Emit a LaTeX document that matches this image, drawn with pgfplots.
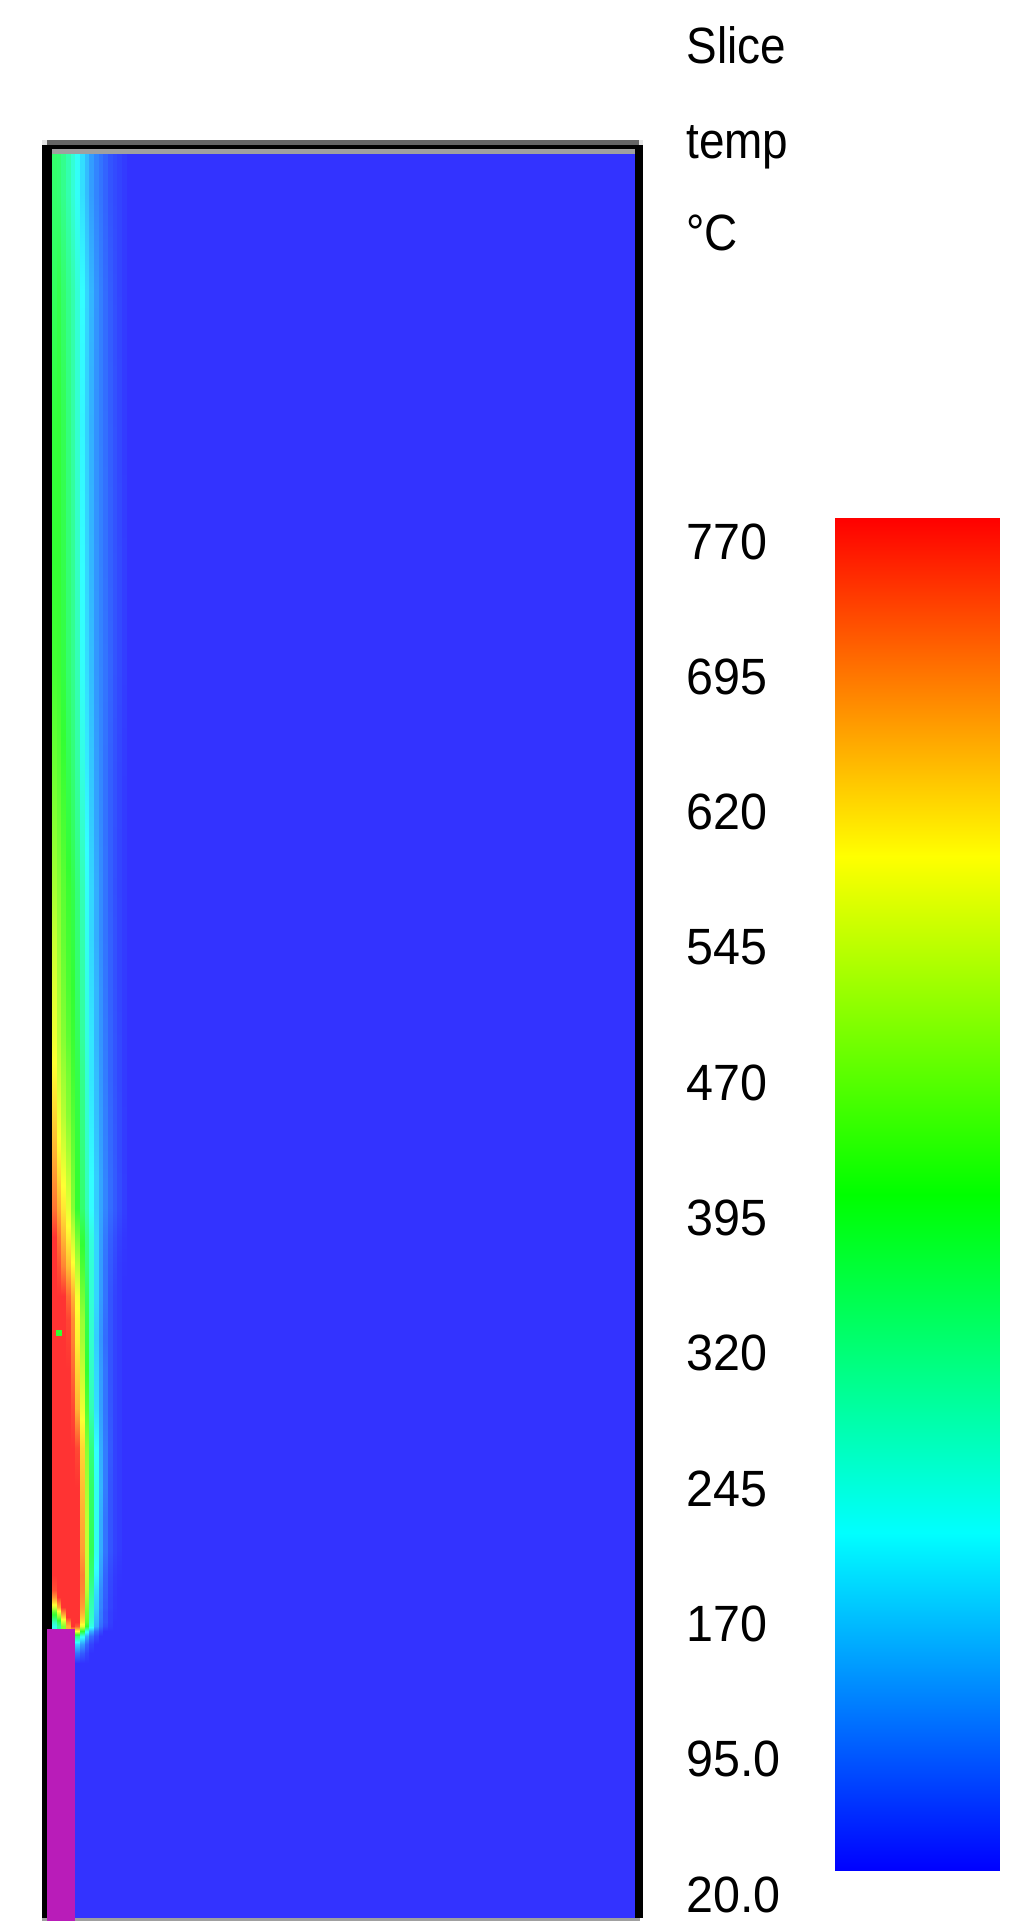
\documentclass[border=0pt]{standalone}
\usepackage{fontspec}
\setmainfont{Liberation Sans}
\usepackage{pgfplots}
\pgfplotsset{compat=1.18}
\pgfplotsset{
  colormap={smvslice}{rgb255=(51,51,255) rgb255=(51,255,255) rgb255=(51,255,51) rgb255=(255,255,51) rgb255=(255,51,51)},
  colormap={smvbar}{rgb255=(0,0,255) rgb255=(0,255,255) rgb255=(0,255,0) rgb255=(255,255,0) rgb255=(255,0,0)}
}
\definecolor{wallgray}{RGB}{160,160,160}
\definecolor{darkbar}{RGB}{100,100,100}
\definecolor{lightnub}{RGB}{228,228,228}
\definecolor{obst}{RGB}{185,28,185}
\newcommand\lab[1]{\scalebox{0.95}[1]{#1}}
\newcommand\txt[1]{\scalebox{0.9}[1]{#1}}
\newcommand\lfont{\fontsize{25.5}{30}\selectfont}
\begin{document}
\begin{tikzpicture}[x=0.5pt,y=0.5pt]
\path[use as bounding box] (0,0) rectangle (1026,1921);
% temperature slice: each grid cell column given at its two edges, levels interpolated vertically
\begin{axis}[at={(26pt,1.5pt)}, anchor=south west, scale only axis,
  width=291.5pt, height=882pt, xmin=0, xmax=125, ymin=0, ymax=360,
  view={0}{90}, hide axis, colormap name=smvslice,
  point meta min=20, point meta max=770]
\addplot3[surf, shader=interp, mesh/cols=34, point meta=z] table[row sep=\\] {
x y T\\
0 0 20\\1 0 20\\1 0 20\\2 0 20\\2 0 20\\3 0 20\\3 0 20\\4 0 20\\4 0 20\\5 0 20\\5 0 20\\6 0 20\\6 0 20\\7 0 20\\7 0 20\\8 0 20\\8 0 20\\9 0 20\\9 0 20\\10 0 20\\10 0 20\\11 0 20\\11 0 20\\12 0 20\\12 0 20\\13 0 20\\13 0 20\\14 0 20\\14 0 20\\15 0 20\\15 0 20\\16 0 20\\16 0 20\\125 0 20\\
0 52 20\\1 52 20\\1 52 20\\2 52 20\\2 52 20\\3 52 20\\3 52 20\\4 52 20\\4 52 20\\5 52 20\\5 52 20\\6 52 20\\6 52 20\\7 52 20\\7 52 20\\8 52 20\\8 52 20\\9 52 20\\9 52 20\\10 52 20\\10 52 20\\11 52 20\\11 52 20\\12 52 20\\12 52 20\\13 52 20\\13 52 20\\14 52 20\\14 52 20\\15 52 20\\15 52 20\\16 52 20\\16 52 20\\125 52 20\\
0 54 20\\1 54 20\\1 54 20\\2 54 20\\2 54 20\\3 54 20\\3 54 20\\4 54 20\\4 54 20\\5 54 20\\5 54 80\\6 54 80\\6 54 57\\7 54 57\\7 54 35\\8 54 35\\8 54 20\\9 54 20\\9 54 20\\10 54 20\\10 54 20\\11 54 20\\11 54 20\\12 54 20\\12 54 20\\13 54 20\\13 54 20\\14 54 20\\14 54 20\\15 54 20\\15 54 20\\16 54 20\\16 54 20\\125 54 20\\
0 56 20\\1 56 20\\1 56 20\\2 56 20\\2 56 20\\3 56 20\\3 56 20\\4 56 20\\4 56 20\\5 56 20\\5 56 170\\6 56 170\\6 56 117\\7 56 117\\7 56 65\\8 56 65\\8 56 35\\9 56 35\\9 56 20\\10 56 20\\10 56 20\\11 56 20\\11 56 20\\12 56 20\\12 56 20\\13 56 20\\13 56 20\\14 56 20\\14 56 20\\15 56 20\\15 56 20\\16 56 20\\16 56 20\\125 56 20\\
0 57.5 222\\1 57.5 222\\1 57.5 305\\2 57.5 305\\2 57.5 470\\3 57.5 470\\3 57.5 657\\4 57.5 657\\4 57.5 395\\5 57.5 395\\5 57.5 320\\6 57.5 320\\6 57.5 222\\7 57.5 222\\7 57.5 132\\8 57.5 132\\8 57.5 72\\9 57.5 72\\9 57.5 42\\10 57.5 42\\10 57.5 20\\11 57.5 20\\11 57.5 20\\12 57.5 20\\12 57.5 20\\13 57.5 20\\13 57.5 20\\14 57.5 20\\14 57.5 20\\15 57.5 20\\15 57.5 20\\16 57.5 20\\16 57.5 20\\125 57.5 20\\
0 58.5 222\\1 58.5 222\\1 58.5 305\\2 58.5 305\\2 58.5 470\\3 58.5 470\\3 58.5 657\\4 58.5 657\\4 58.5 620\\5 58.5 620\\5 58.5 582\\6 58.5 582\\6 58.5 395\\7 58.5 395\\7 58.5 222\\8 58.5 222\\8 58.5 132\\9 58.5 132\\9 58.5 72\\10 58.5 72\\10 58.5 42\\11 58.5 42\\11 58.5 20\\12 58.5 20\\12 58.5 20\\13 58.5 20\\13 58.5 20\\14 58.5 20\\14 58.5 20\\15 58.5 20\\15 58.5 20\\16 58.5 20\\16 58.5 20\\125 58.5 20\\
0 59.5 222\\1 59.5 222\\1 59.5 305\\2 59.5 305\\2 59.5 470\\3 59.5 470\\3 59.5 657\\4 59.5 657\\4 59.5 770\\5 59.5 770\\5 59.5 732\\6 59.5 732\\6 59.5 560\\7 59.5 560\\7 59.5 395\\8 59.5 395\\8 59.5 230\\9 59.5 230\\9 59.5 132\\10 59.5 132\\10 59.5 72\\11 59.5 72\\11 59.5 42\\12 59.5 42\\12 59.5 27\\13 59.5 27\\13 59.5 20\\14 59.5 20\\14 59.5 20\\15 59.5 20\\15 59.5 20\\16 59.5 20\\16 59.5 20\\125 59.5 20\\
0 60.5 267\\1 60.5 267\\1 60.5 357\\2 60.5 357\\2 60.5 530\\3 60.5 530\\3 60.5 695\\4 60.5 695\\4 60.5 770\\5 60.5 770\\5 60.5 770\\6 60.5 770\\6 60.5 605\\7 60.5 605\\7 60.5 432\\8 60.5 432\\8 60.5 245\\9 60.5 245\\9 60.5 140\\10 60.5 140\\10 60.5 80\\11 60.5 80\\11 60.5 50\\12 60.5 50\\12 60.5 30\\13 60.5 30\\13 60.5 20\\14 60.5 20\\14 60.5 20\\15 60.5 20\\15 60.5 20\\16 60.5 20\\16 60.5 20\\125 60.5 20\\
0 61.5 357\\1 61.5 357\\1 61.5 470\\2 61.5 470\\2 61.5 620\\3 61.5 620\\3 61.5 770\\4 61.5 770\\4 61.5 770\\5 61.5 770\\5 61.5 770\\6 61.5 770\\6 61.5 635\\7 61.5 635\\7 61.5 447\\8 61.5 447\\8 61.5 260\\9 61.5 260\\9 61.5 147\\10 61.5 147\\10 61.5 87\\11 61.5 87\\11 61.5 50\\12 61.5 50\\12 61.5 30\\13 61.5 30\\13 61.5 22\\14 61.5 22\\14 61.5 20\\15 61.5 20\\15 61.5 20\\16 61.5 20\\16 61.5 20\\125 61.5 20\\
0 62.5 432\\1 62.5 432\\1 62.5 560\\2 62.5 560\\2 62.5 695\\3 62.5 695\\3 62.5 770\\4 62.5 770\\4 62.5 770\\5 62.5 770\\5 62.5 770\\6 62.5 770\\6 62.5 657\\7 62.5 657\\7 62.5 455\\8 62.5 455\\8 62.5 267\\9 62.5 267\\9 62.5 155\\10 62.5 155\\10 62.5 87\\11 62.5 87\\11 62.5 50\\12 62.5 50\\12 62.5 30\\13 62.5 30\\13 62.5 22\\14 62.5 22\\14 62.5 20\\15 62.5 20\\15 62.5 20\\16 62.5 20\\16 62.5 20\\125 62.5 20\\
0 63.5 545\\1 63.5 545\\1 63.5 657\\2 63.5 657\\2 63.5 770\\3 63.5 770\\3 63.5 770\\4 63.5 770\\4 63.5 770\\5 63.5 770\\5 63.5 770\\6 63.5 770\\6 63.5 672\\7 63.5 672\\7 63.5 470\\8 63.5 470\\8 63.5 275\\9 63.5 275\\9 63.5 162\\10 63.5 162\\10 63.5 95\\11 63.5 95\\11 63.5 57\\12 63.5 57\\12 63.5 35\\13 63.5 35\\13 63.5 24\\14 63.5 24\\14 63.5 20\\15 63.5 20\\15 63.5 20\\16 63.5 20\\16 63.5 20\\125 63.5 20\\
0 64.5 620\\1 64.5 620\\1 64.5 710\\2 64.5 710\\2 64.5 770\\3 64.5 770\\3 64.5 770\\4 64.5 770\\4 64.5 770\\5 64.5 770\\5 64.5 770\\6 64.5 770\\6 64.5 680\\7 64.5 680\\7 64.5 485\\8 64.5 485\\8 64.5 282\\9 64.5 282\\9 64.5 165\\10 64.5 165\\10 64.5 95\\11 64.5 95\\11 64.5 57\\12 64.5 57\\12 64.5 35\\13 64.5 35\\13 64.5 24\\14 64.5 24\\14 64.5 20\\15 64.5 20\\15 64.5 20\\16 64.5 20\\16 64.5 20\\125 64.5 20\\
0 65.5 680\\1 65.5 680\\1 65.5 770\\2 65.5 770\\2 65.5 770\\3 65.5 770\\3 65.5 770\\4 65.5 770\\4 65.5 770\\5 65.5 770\\5 65.5 770\\6 65.5 770\\6 65.5 687\\7 65.5 687\\7 65.5 500\\8 65.5 500\\8 65.5 290\\9 65.5 290\\9 65.5 170\\10 65.5 170\\10 65.5 100\\11 65.5 100\\11 65.5 60\\12 65.5 60\\12 65.5 35\\13 65.5 35\\13 65.5 24\\14 65.5 24\\14 65.5 20\\15 65.5 20\\15 65.5 20\\16 65.5 20\\16 65.5 20\\125 65.5 20\\
0 67 745\\1 67 745\\1 67 770\\2 67 770\\2 67 770\\3 67 770\\3 67 770\\4 67 770\\4 67 770\\5 67 770\\5 67 770\\6 67 770\\6 67 695\\7 67 695\\7 67 515\\8 67 515\\8 67 305\\9 67 305\\9 67 177\\10 67 177\\10 67 102\\11 67 102\\11 67 62\\12 67 62\\12 67 37\\13 67 37\\13 67 25\\14 67 25\\14 67 20\\15 67 20\\15 67 20\\16 67 20\\16 67 20\\125 67 20\\
0 70 770\\1 70 770\\1 70 770\\2 70 770\\2 70 770\\3 70 770\\3 70 770\\4 70 770\\4 70 770\\5 70 770\\5 70 770\\6 70 770\\6 70 700\\7 70 700\\7 70 530\\8 70 530\\8 70 335\\9 70 335\\9 70 200\\10 70 200\\10 70 117\\11 70 117\\11 70 65\\12 70 65\\12 70 40\\13 70 40\\13 70 27\\14 70 27\\14 70 22\\15 70 22\\15 70 20\\16 70 20\\16 70 20\\125 70 20\\
0 75 770\\1 75 770\\1 75 770\\2 75 770\\2 75 770\\3 75 770\\3 75 770\\4 75 770\\4 75 770\\5 75 770\\5 75 770\\6 75 770\\6 75 672\\7 75 672\\7 75 530\\8 75 530\\8 75 365\\9 75 365\\9 75 222\\10 75 222\\10 75 132\\11 75 132\\11 75 80\\12 75 80\\12 75 50\\13 75 50\\13 75 35\\14 75 35\\14 75 27\\15 75 27\\15 75 20\\16 75 20\\16 75 20\\125 75 20\\
0 81 770\\1 81 770\\1 81 770\\2 81 770\\2 81 770\\3 81 770\\3 81 770\\4 81 770\\4 81 770\\5 81 770\\5 81 770\\6 81 770\\6 81 660\\7 81 660\\7 81 522\\8 81 522\\8 81 357\\9 81 357\\9 81 222\\10 81 222\\10 81 132\\11 81 132\\11 81 80\\12 81 80\\12 81 50\\13 81 50\\13 81 35\\14 81 35\\14 81 27\\15 81 27\\15 81 20\\16 81 20\\16 81 20\\125 81 20\\
0 88 770\\1 88 770\\1 88 770\\2 88 770\\2 88 770\\3 88 770\\3 88 770\\4 88 770\\4 88 770\\5 88 770\\5 88 770\\6 88 770\\6 88 642\\7 88 642\\7 88 500\\8 88 500\\8 88 350\\9 88 350\\9 88 222\\10 88 222\\10 88 140\\11 88 140\\11 88 87\\12 88 87\\12 88 50\\13 88 50\\13 88 35\\14 88 35\\14 88 27\\15 88 27\\15 88 20\\16 88 20\\16 88 20\\125 88 20\\
0 96 770\\1 96 770\\1 96 770\\2 96 770\\2 96 770\\3 96 770\\3 96 770\\4 96 770\\4 96 770\\5 96 770\\5 96 750\\6 96 750\\6 96 620\\7 96 620\\7 96 475\\8 96 475\\8 96 327\\9 96 327\\9 96 207\\10 96 207\\10 96 132\\11 96 132\\11 96 87\\12 96 87\\12 96 55\\13 96 55\\13 96 35\\14 96 35\\14 96 27\\15 96 27\\15 96 20\\16 96 20\\16 96 20\\125 96 20\\
0 104 770\\1 104 770\\1 104 770\\2 104 770\\2 104 770\\3 104 770\\3 104 770\\4 104 770\\4 104 750\\5 104 750\\5 104 650\\6 104 650\\6 104 567\\7 104 567\\7 104 425\\8 104 425\\8 104 275\\9 104 275\\9 104 177\\10 104 177\\10 104 120\\11 104 120\\11 104 80\\12 104 80\\12 104 52\\13 104 52\\13 104 35\\14 104 35\\14 104 27\\15 104 27\\15 104 20\\16 104 20\\16 104 20\\125 104 20\\
0 112 770\\1 112 770\\1 112 770\\2 112 770\\2 112 770\\3 112 770\\3 112 770\\4 112 770\\4 112 720\\5 112 720\\5 112 620\\6 112 620\\6 112 530\\7 112 530\\7 112 395\\8 112 395\\8 112 260\\9 112 260\\9 112 170\\10 112 170\\10 112 117\\11 112 117\\11 112 80\\12 112 80\\12 112 50\\13 112 50\\13 112 35\\14 112 35\\14 112 27\\15 112 27\\15 112 20\\16 112 20\\16 112 20\\125 112 20\\
0 118 770\\1 118 770\\1 118 770\\2 118 770\\2 118 770\\3 118 770\\3 118 760\\4 118 760\\4 118 700\\5 118 700\\5 118 597\\6 118 597\\6 118 500\\7 118 500\\7 118 380\\8 118 380\\8 118 252\\9 118 252\\9 118 162\\10 118 162\\10 118 110\\11 118 110\\11 118 72\\12 118 72\\12 118 50\\13 118 50\\13 118 35\\14 118 35\\14 118 27\\15 118 27\\15 118 20\\16 118 20\\16 118 20\\125 118 20\\
0 122 770\\1 122 770\\1 122 770\\2 122 770\\2 122 770\\3 122 770\\3 122 755\\4 122 755\\4 122 690\\5 122 690\\5 122 590\\6 122 590\\6 122 490\\7 122 490\\7 122 372\\8 122 372\\8 122 250\\9 122 250\\9 122 165\\10 122 165\\10 122 112\\11 122 112\\11 122 75\\12 122 75\\12 122 50\\13 122 50\\13 122 35\\14 122 35\\14 122 27\\15 122 27\\15 122 20\\16 122 20\\16 122 20\\125 122 20\\
0 127 770\\1 127 770\\1 127 770\\2 127 770\\2 127 770\\3 127 770\\3 127 720\\4 127 720\\4 127 657\\5 127 657\\5 127 575\\6 127 575\\6 127 455\\7 127 455\\7 127 357\\8 127 357\\8 127 245\\9 127 245\\9 127 170\\10 127 170\\10 127 117\\11 127 117\\11 127 80\\12 127 80\\12 127 50\\13 127 50\\13 127 35\\14 127 35\\14 127 27\\15 127 27\\15 127 20\\16 127 20\\16 127 20\\125 127 20\\
0 133 770\\1 133 770\\1 133 745\\2 133 745\\2 133 695\\3 133 695\\3 133 642\\4 133 642\\4 133 590\\5 133 590\\5 133 515\\6 133 515\\6 133 417\\7 133 417\\7 133 327\\8 133 327\\8 133 245\\9 133 245\\9 133 170\\10 133 170\\10 133 117\\11 133 117\\11 133 80\\12 133 80\\12 133 55\\13 133 55\\13 133 40\\14 133 40\\14 133 27\\15 133 27\\15 133 22\\16 133 22\\16 133 20\\125 133 20\\
0 139 770\\1 139 770\\1 139 710\\2 139 710\\2 139 650\\3 139 650\\3 139 597\\4 139 597\\4 139 537\\5 139 537\\5 139 455\\6 139 455\\6 139 387\\7 139 387\\7 139 312\\8 139 312\\8 139 237\\9 139 237\\9 139 170\\10 139 170\\10 139 120\\11 139 120\\11 139 85\\12 139 85\\12 139 60\\13 139 60\\13 139 45\\14 139 45\\14 139 32\\15 139 32\\15 139 24\\16 139 24\\16 139 20\\125 139 20\\
0 145 710\\1 145 710\\1 145 657\\2 145 657\\2 145 605\\3 145 605\\3 145 560\\4 145 560\\4 145 470\\5 145 470\\5 145 395\\6 145 395\\6 145 340\\7 145 340\\7 145 275\\8 145 275\\8 145 207\\9 145 207\\9 145 162\\10 145 162\\10 145 125\\11 145 125\\11 145 95\\12 145 95\\12 145 72\\13 145 72\\13 145 57\\14 145 57\\14 145 42\\15 145 42\\15 145 30\\16 145 30\\16 145 20\\125 145 20\\
0 151 680\\1 151 680\\1 151 620\\2 151 620\\2 151 575\\3 151 575\\3 151 530\\4 151 530\\4 151 455\\5 151 455\\5 151 395\\6 151 395\\6 151 335\\7 151 335\\7 151 267\\8 151 267\\8 151 207\\9 151 207\\9 151 162\\10 151 162\\10 151 125\\11 151 125\\11 151 95\\12 151 95\\12 151 72\\13 151 72\\13 151 57\\14 151 57\\14 151 42\\15 151 42\\15 151 30\\16 151 30\\16 151 20\\125 151 20\\
0 157 650\\1 157 650\\1 157 590\\2 157 590\\2 157 545\\3 157 545\\3 157 500\\4 157 500\\4 157 440\\5 157 440\\5 157 387\\6 157 387\\6 157 327\\7 157 327\\7 157 260\\8 157 260\\8 157 200\\9 157 200\\9 157 155\\10 157 155\\10 157 120\\11 157 120\\11 157 92\\12 157 92\\12 157 70\\13 157 70\\13 157 55\\14 157 55\\14 157 40\\15 157 40\\15 157 28\\16 157 28\\16 157 20\\125 157 20\\
0 164 620\\1 164 620\\1 164 567\\2 164 567\\2 164 515\\3 164 515\\3 164 470\\4 164 470\\4 164 425\\5 164 425\\5 164 380\\6 164 380\\6 164 320\\7 164 320\\7 164 252\\8 164 252\\8 164 192\\9 164 192\\9 164 150\\10 164 150\\10 164 117\\11 164 117\\11 164 90\\12 164 90\\12 164 68\\13 164 68\\13 164 53\\14 164 53\\14 164 40\\15 164 40\\15 164 28\\16 164 28\\16 164 20\\125 164 20\\
0 172 590\\1 172 590\\1 172 537\\2 172 537\\2 172 492\\3 172 492\\3 172 455\\4 172 455\\4 172 410\\5 172 410\\5 172 372\\6 172 372\\6 172 312\\7 172 312\\7 172 245\\8 172 245\\8 172 185\\9 172 185\\9 172 147\\10 172 147\\10 172 112\\11 172 112\\11 172 87\\12 172 87\\12 172 65\\13 172 65\\13 172 50\\14 172 50\\14 172 38\\15 172 38\\15 172 27\\16 172 27\\16 172 20\\125 172 20\\
0 180 567\\1 180 567\\1 180 515\\2 180 515\\2 180 470\\3 180 470\\3 180 432\\4 180 432\\4 180 402\\5 180 402\\5 180 357\\6 180 357\\6 180 297\\7 180 297\\7 180 237\\8 180 237\\8 180 185\\9 180 185\\9 180 140\\10 180 140\\10 180 110\\11 180 110\\11 180 85\\12 180 85\\12 180 65\\13 180 65\\13 180 50\\14 180 50\\14 180 38\\15 180 38\\15 180 27\\16 180 27\\16 180 20\\125 180 20\\
0 190 552\\1 190 552\\1 190 500\\2 190 500\\2 190 455\\3 190 455\\3 190 417\\4 190 417\\4 190 395\\5 190 395\\5 190 342\\6 190 342\\6 190 290\\7 190 290\\7 190 230\\8 190 230\\8 190 177\\9 190 177\\9 190 140\\10 190 140\\10 190 107\\11 190 107\\11 190 82\\12 190 82\\12 190 62\\13 190 62\\13 190 48\\14 190 48\\14 190 36\\15 190 36\\15 190 27\\16 190 27\\16 190 20\\125 190 20\\
0 200 530\\1 200 530\\1 200 485\\2 200 485\\2 200 440\\3 200 440\\3 200 410\\4 200 410\\4 200 380\\5 200 380\\5 200 335\\6 200 335\\6 200 282\\7 200 282\\7 200 222\\8 200 222\\8 200 170\\9 200 170\\9 200 132\\10 200 132\\10 200 102\\11 200 102\\11 200 80\\12 200 80\\12 200 62\\13 200 62\\13 200 48\\14 200 48\\14 200 36\\15 200 36\\15 200 27\\16 200 27\\16 200 20\\125 200 20\\
0 210 500\\1 210 500\\1 210 470\\2 210 470\\2 210 432\\3 210 432\\3 210 402\\4 210 402\\4 210 372\\5 210 372\\5 210 327\\6 210 327\\6 210 275\\7 210 275\\7 210 215\\8 210 215\\8 210 170\\9 210 170\\9 210 132\\10 210 132\\10 210 102\\11 210 102\\11 210 80\\12 210 80\\12 210 60\\13 210 60\\13 210 46\\14 210 46\\14 210 35\\15 210 35\\15 210 27\\16 210 27\\16 210 20\\125 210 20\\
0 221 475\\1 221 475\\1 221 450\\2 221 450\\2 221 418\\3 221 418\\3 221 385\\4 221 385\\4 221 352\\5 221 352\\5 221 310\\6 221 310\\6 221 255\\7 221 255\\7 221 205\\8 221 205\\8 221 162\\9 221 162\\9 221 125\\10 221 125\\10 221 100\\11 221 100\\11 221 78\\12 221 78\\12 221 60\\13 221 60\\13 221 47\\14 221 47\\14 221 36\\15 221 36\\15 221 27\\16 221 27\\16 221 20\\125 221 20\\
0 236 445\\1 236 445\\1 236 428\\2 236 428\\2 236 400\\3 236 400\\3 236 365\\4 236 365\\4 236 332\\5 236 332\\5 236 292\\6 236 292\\6 236 232\\7 236 232\\7 236 190\\8 236 190\\8 236 155\\9 236 155\\9 236 118\\10 236 118\\10 236 97\\11 236 97\\11 236 78\\12 236 78\\12 236 61\\13 236 61\\13 236 48\\14 236 48\\14 236 37\\15 236 37\\15 236 28\\16 236 28\\16 236 20\\125 236 20\\
0 255 410\\1 255 410\\1 255 405\\2 255 405\\2 255 380\\3 255 380\\3 255 342\\4 255 342\\4 255 312\\5 255 312\\5 255 275\\6 255 275\\6 255 212\\7 255 212\\7 255 177\\8 255 177\\8 255 147\\9 255 147\\9 255 112\\10 255 112\\10 255 95\\11 255 95\\11 255 80\\12 255 80\\12 255 65\\13 255 65\\13 255 50\\14 255 50\\14 255 40\\15 255 40\\15 255 30\\16 255 30\\16 255 20\\125 255 20\\
0 277 395\\1 277 395\\1 277 395\\2 277 395\\2 277 372\\3 277 372\\3 277 335\\4 277 335\\4 277 305\\5 277 305\\5 277 260\\6 277 260\\6 277 207\\7 277 207\\7 277 170\\8 277 170\\8 277 140\\9 277 140\\9 277 110\\10 277 110\\10 277 92\\11 277 92\\11 277 77\\12 277 77\\12 277 62\\13 277 62\\13 277 50\\14 277 50\\14 277 40\\15 277 40\\15 277 30\\16 277 30\\16 277 20\\125 277 20\\
0 305 387\\1 305 387\\1 305 390\\2 305 390\\2 305 365\\3 305 365\\3 305 327\\4 305 327\\4 305 290\\5 305 290\\5 305 250\\6 305 250\\6 305 200\\7 305 200\\7 305 165\\8 305 165\\8 305 135\\9 305 135\\9 305 107\\10 305 107\\10 305 90\\11 305 90\\11 305 75\\12 305 75\\12 305 60\\13 305 60\\13 305 48\\14 305 48\\14 305 38\\15 305 38\\15 305 28\\16 305 28\\16 305 20\\125 305 20\\
0 332 357\\1 332 357\\1 332 372\\2 332 372\\2 332 342\\3 332 342\\3 332 312\\4 332 312\\4 332 282\\5 332 282\\5 332 245\\6 332 245\\6 332 207\\7 332 207\\7 332 170\\8 332 170\\8 332 140\\9 332 140\\9 332 110\\10 332 110\\10 332 90\\11 332 90\\11 332 72\\12 332 72\\12 332 58\\13 332 58\\13 332 46\\14 332 46\\14 332 36\\15 332 36\\15 332 27\\16 332 27\\16 332 20\\125 332 20\\
0 352 342\\1 352 342\\1 352 335\\2 352 335\\2 352 312\\3 352 312\\3 352 282\\4 352 282\\4 352 245\\5 352 245\\5 352 215\\6 352 215\\6 352 177\\7 352 177\\7 352 147\\8 352 147\\8 352 117\\9 352 117\\9 352 95\\10 352 95\\10 352 80\\11 352 80\\11 352 65\\12 352 65\\12 352 50\\13 352 50\\13 352 42\\14 352 42\\14 352 35\\15 352 35\\15 352 27\\16 352 27\\16 352 20\\125 352 20\\
0 360 342\\1 360 342\\1 360 335\\2 360 335\\2 360 312\\3 360 312\\3 360 282\\4 360 282\\4 360 245\\5 360 245\\5 360 215\\6 360 215\\6 360 177\\7 360 177\\7 360 147\\8 360 147\\8 360 117\\9 360 117\\9 360 95\\10 360 95\\10 360 80\\11 360 80\\11 360 65\\12 360 65\\12 360 50\\13 360 50\\13 360 42\\14 360 42\\14 360 35\\15 360 35\\15 360 27\\16 360 27\\16 360 20\\125 360 20\\
};
% single cooler cell inside the flame
\addplot3[surf, shader=flat corner, mesh/cols=2, point meta=z] coordinates {
(1,119,395) (2,119,395)
(1,120,395) (2,120,395)
};
\end{axis}
% walls and obstruction
\fill[black] (42,3) rectangle (52,1776);
\fill[black] (635,3) rectangle (643,1776);
\fill[black] (42,1772) rectangle (643,1776);
\fill[darkbar] (47,1776) rectangle (639,1781);
\fill[lightnub] (42,1776) rectangle (47,1781);
\fill[lightnub] (639,1776) rectangle (643,1781);
\fill[wallgray] (52,1767) rectangle (635,1772);
\fill[wallgray] (42,0) rectangle (640,3);
\fill[obst] (47,0) rectangle (75,292);
% colour bar
\begin{axis}[at={(417.5pt,25pt)}, anchor=south west, scale only axis,
  width=82pt, height=676.5pt, xmin=0, xmax=1, ymin=20, ymax=770, zmin=-1, zmax=1,
  view={0}{90}, axis line style={draw=none}, tick style={draw=none},
  major tick length=0pt, xtick=\empty, ztick=\empty,
  ytick={20,95,170,245,320,395,470,545,620,695,770},
  yticklabels={\lab{20.0},\lab{95.0},\lab{170},\lab{245},\lab{320},\lab{395},\lab{470},\lab{545},\lab{620},\lab{695},\lab{770}},
  yticklabel style={anchor=north west, inner sep=0pt, xshift=-74.5pt, yshift=-2.5pt, font=\lfont},
  colormap name=smvbar, point meta min=20, point meta max=770]
\addplot3[surf, shader=interp, mesh/cols=2, point meta=y] coordinates {
(0,20,0) (1,20,0)
(0,770,0) (1,770,0)
};
\end{axis}
% titles
\node[anchor=base west, inner sep=0pt, font=\lfont] at (686,1857) {\txt{Slice}};
\node[anchor=base west, inner sep=0pt, font=\lfont] at (686,1762) {\txt{temp}};
\node[anchor=base west, inner sep=0pt, font=\lfont] at (686,1670) {\txt{°C}};
\end{tikzpicture}
\end{document}
